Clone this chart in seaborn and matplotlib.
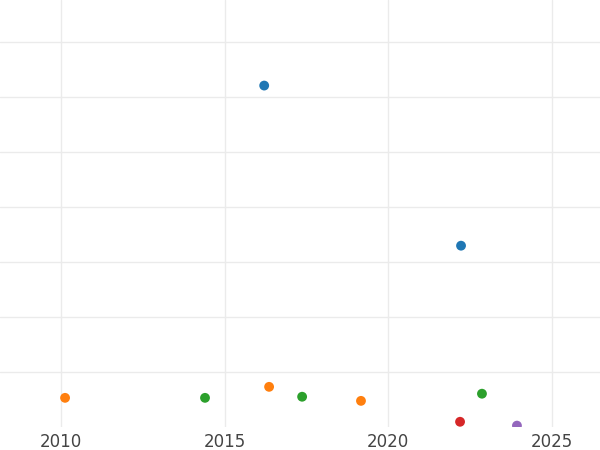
import matplotlib
matplotlib.use("Agg")
import matplotlib.pyplot as plt
import seaborn as sns
import pandas as pd

groups = ["A", "A", "B", "B", "B", "C", "C", "C", "D", "E"]
years = [2016.21, 2022.23, 2010.12, 2016.36, 2019.17, 2014.40, 2017.37, 2022.87, 2022.20, 2023.94]
values = [62.05, 32.95, 5.3, 7.3, 4.75, 5.3, 5.5, 6.05, 0.95, 0.25]
hue_order = ["A", "B", "C", "D", "E"]
palette = ["#1f77b4", "#ff7f0e", "#2ca02c", "#d62728", "#9467bd"]
xticks = [2010, 2015, 2020, 2025]

df = pd.DataFrame({"group": groups, "year": years, "value": values})

sns.set_theme(style="white")
fig = plt.figure(figsize=(6, 4.5), dpi=100)
ax = fig.add_axes([0, 23 / 450, 1, 427 / 450])

sns.scatterplot(data=df, x="year", y="value", hue="group", hue_order=hue_order,
                palette=palette, s=50, linewidth=0, legend=False, ax=ax, zorder=3)

ax.set_xlim(2008.13, 2026.48)
ax.set_ylim(0, 77.6)
ax.set_xticks(xticks)
ax.set_xticklabels([str(t) for t in xticks])
ax.set_yticks([10, 20, 30, 40, 50, 60, 70])
ax.set_yticklabels([])
ax.grid(True, color="#ebebeb", linewidth=1)
ax.set_axisbelow(True)
for s in ax.spines.values():
    s.set_visible(False)
ax.tick_params(axis="x", length=0, pad=4, labelsize=12, labelcolor="#444444")
ax.tick_params(axis="y", length=0)
ax.set_xlabel("")
ax.set_ylabel("")

fig.savefig("out.png", dpi=100)
